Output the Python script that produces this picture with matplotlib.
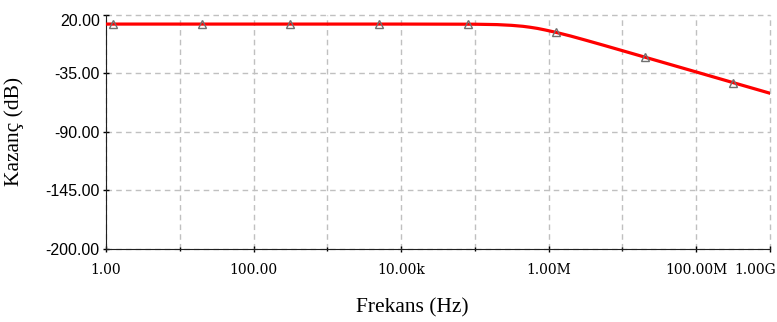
import numpy as np
import matplotlib.pyplot as plt
from matplotlib.ticker import FixedLocator, FixedFormatter, NullFormatter
from matplotlib.transforms import ScaledTranslation

# Frequency response (gain in dB vs frequency in Hz)
freq_hz = [1.0, 10.0, 100.0, 1e3, 1e4, 1e5, 2.0e5, 3.16e5, 4.47e5, 5.62e5,
           7.08e5, 8.91e5, 1.26e6, 2.0e6, 3.16e6, 5.62e6, 1.0e7, 3.16e7,
           1.0e8, 3.16e8, 1.0e9]
gain_db = [11.0, 11.0, 11.0, 11.0, 11.0, 10.87, 10.5, 9.8, 8.9, 8.0,
           6.9, 5.5, 3.2, -0.3, -4.1, -9.0, -14.0, -24.0,
           -34.0, -44.0, -54.0]

# Probe markers along the trace
marker_hz = [1.25, 20.0, 316.0, 5.0e3, 8.0e4, 1.26e6, 2.0e7, 3.16e8]
marker_db = [11.0, 11.0, 11.0, 11.0, 10.9, 3.2, -20.0, -44.0]

x_major = [1.0, 100.0, 1e4, 1e6, 1e8, 1e9]
x_major_labels = ["1.00", "100.00", "10.00k", "1.00M", "100.00M", "1.00G"]
x_minor = [10.0, 1e3, 1e5, 1e7]
y_ticks = [20.0, -35.0, -90.0, -145.0, -200.0]

fig = plt.figure(figsize=(7.77, 3.22), dpi=100)
ax = fig.add_axes([106 / 777, 1 - 248.6 / 322, 664 / 777, (248.6 - 14.5) / 322])

ax.set_xscale("log")
ax.set_xlim(1.0, 1e9)
ax.set_ylim(-200.0, 20.0)

ax.plot(freq_hz, gain_db, color="#ff0000", linewidth=2.3, zorder=3)
ax.plot(marker_hz, marker_db, linestyle="none", marker="^", markersize=6,
        markerfacecolor="none", markeredgecolor="#707070", markeredgewidth=1.0,
        zorder=4)

# ticks and grid
ax.xaxis.set_major_locator(FixedLocator(x_major))
ax.xaxis.set_major_formatter(FixedFormatter(x_major_labels))
ax.xaxis.set_minor_locator(FixedLocator(x_minor))
ax.xaxis.set_minor_formatter(NullFormatter())
ax.set_yticks(y_ticks)
ax.set_yticklabels([f"{v:.2f}" for v in y_ticks])

ax.tick_params(axis="x", which="major", direction="inout", length=5, width=1,
               pad=8, labelsize=10)
ax.tick_params(axis="x", which="minor", direction="inout", length=3, width=1)
ax.tick_params(axis="y", direction="inout", length=5, width=1, pad=2,
               labelsize=11.5)
for lbl in ax.get_xticklabels():
    lbl.set_family("DejaVu Serif")
for lbl in ax.get_yticklabels():
    lbl.set_family("Liberation Sans")

# last frequency label sits flush with the right edge
last = ax.get_xticklabels()[-1]
last.set_horizontalalignment("right")
last.set_transform(last.get_transform() + ScaledTranslation(6 / 100, 0, fig.dpi_scale_trans))

# top gain label drops a little below its tick
top = ax.get_yticklabels()[0]
top.set_transform(top.get_transform() + ScaledTranslation(0, -5 / 100, fig.dpi_scale_trans))

ax.grid(True, which="both", axis="x", color="#c0c0c0", linestyle=(0, (4, 3)),
        linewidth=1)
ax.grid(True, which="major", axis="y", color="#c0c0c0", linestyle=(0, (4, 3)),
        linewidth=1)
for gl in ax.get_xgridlines() + ax.get_ygridlines():
    gl.set_clip_on(False)

ax.spines["top"].set_visible(False)
ax.spines["right"].set_visible(False)
ax.spines["left"].set_color("#202020")
ax.spines["bottom"].set_color("#202020")

ax.set_xlabel("Frekans (Hz)", family="Liberation Serif", fontsize=15.5,
              va="center")
ax.xaxis.set_label_coords((412 - 106) / 664, -(308 - 248.6) / 234.1)
ax.set_ylabel("Kazanç (dB)", family="Liberation Serif", fontsize=15.5,
              va="center")
ax.yaxis.set_label_coords((14 - 106) / 664, 0.5)

fig.savefig("out.png", dpi=100, facecolor="white")
